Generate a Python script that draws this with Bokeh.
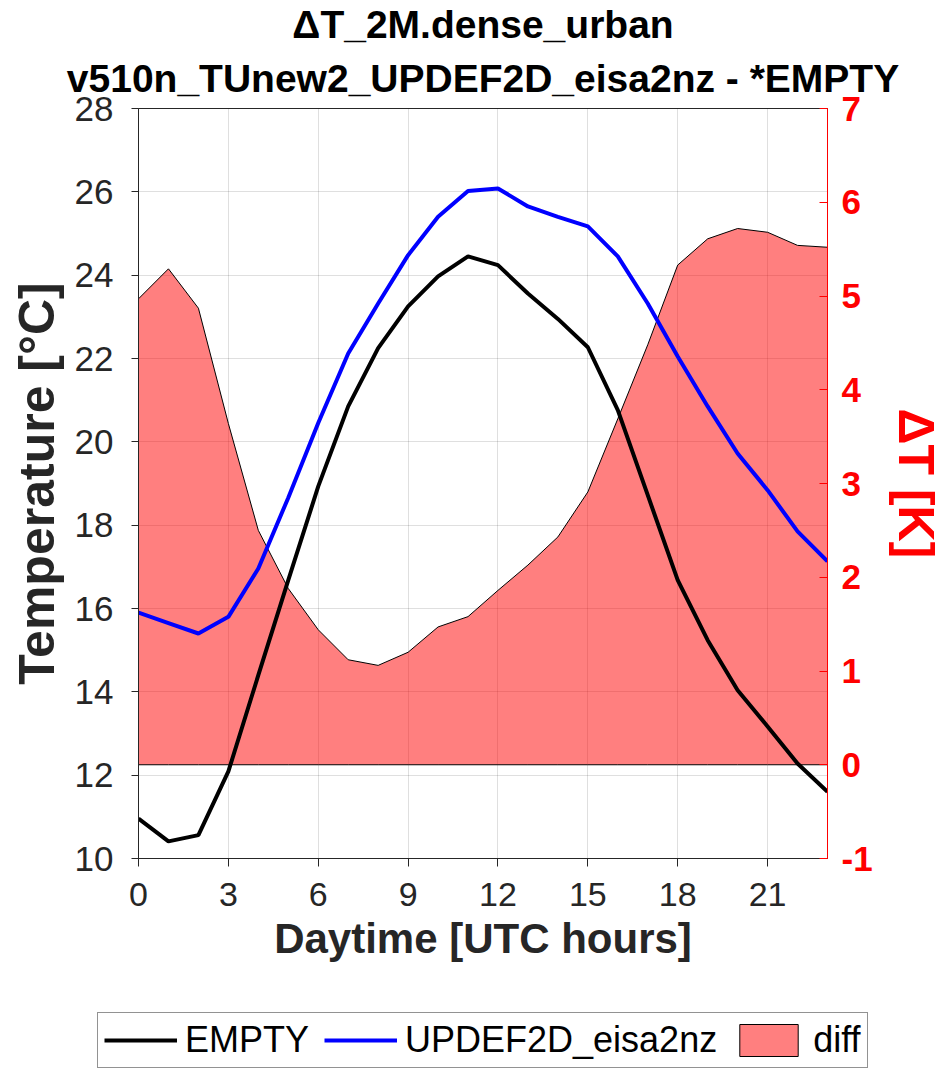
from bokeh.plotting import figure
from bokeh.layouts import column
from bokeh.models import Range1d, LinearAxis, Title, Legend, LegendItem, FixedTicker
from bokeh.embed import file_html
from bokeh.resources import INLINE

# ---- data ----
hours = list(range(24))
t_empty = [10.96, 10.41, 10.56, 12.09, 14.40, 16.68, 18.93, 20.85, 22.25, 23.25,
           23.97, 24.45, 24.24, 23.56, 22.95, 22.27, 20.76, 18.72, 16.68, 15.24,
           14.04, 13.17, 12.28, 11.60]
t_updef = [15.90, 15.65, 15.40, 15.80, 16.96, 18.66, 20.45, 22.12, 23.32, 24.48,
           25.40, 26.02, 26.08, 25.65, 25.40, 25.17, 24.45, 23.32, 22.05, 20.85,
           19.72, 18.84, 17.85, 17.13]
dt_diff = [4.97, 5.29, 4.87, 3.64, 2.50, 1.88, 1.44, 1.12, 1.06, 1.20,
           1.47, 1.58, 1.86, 2.13, 2.43, 2.91, 3.69, 4.48, 5.33, 5.61,
           5.72, 5.68, 5.54, 5.52]
x_ticks = [0, 3, 6, 9, 12, 15, 18, 21]
left_ticks = [10, 12, 14, 16, 18, 20, 22, 24, 26, 28]
right_ticks = [-1, 0, 1, 2, 3, 4, 5, 6, 7]

title_1 = "ΔT_2M.dense_urban"
title_2 = "v510n_TUnew2_UPDEF2D_eisa2nz - *EMPTY"
x_label = "Daytime [UTC hours]"
y_label = "Temperature [°C]"
y2_label = "ΔT [K]"
names = ["EMPTY", "UPDEF2D_eisa2nz", "diff"]

FONT = "Liberation Sans"
DARK = "#262626"
RED = "#ff0000"
BLUE = "#0000ff"
FILL = "red"

p = figure(frame_width=689, frame_height=750, output_backend="svg", toolbar_location=None,
           title=None,
           x_range=Range1d(0, 23), y_range=Range1d(10, 28),
           min_border_left=138, min_border_right=120,
           min_border_top=105, min_border_bottom=150)
p.extra_y_ranges = {"dt": Range1d(-1, 7)}
p.background_fill_color = "white"
p.border_fill_color = "white"
p.outline_line_color = DARK
p.outline_line_width = 1

# filled difference area (right axis)
r_diff = p.patch(x=hours + hours[::-1], y=dt_diff + [0] * len(hours),
                 y_range_name="dt", fill_color=FILL, fill_alpha=0.5,
                 line_color="black", line_width=1)
r_empty = p.line(hours, t_empty, line_color="black", line_width=4)
r_updef = p.line(hours, t_updef, line_color=BLUE, line_width=4)

# grids
for g in (p.xgrid, p.ygrid):
    g.grid_line_color = DARK
    g.grid_line_alpha = 0.15
    g.grid_line_width = 1
p.xgrid.ticker = FixedTicker(ticks=x_ticks)
p.ygrid.ticker = FixedTicker(ticks=left_ticks)

# x axis
xa = p.xaxis[0]
xa.ticker = FixedTicker(ticks=x_ticks)
xa.axis_label = x_label
xa.axis_label_text_font = FONT
xa.axis_label_text_font_size = "42px"
xa.axis_label_text_font_style = "bold"
xa.axis_label_text_color = DARK
xa.axis_label_standoff = 6
xa.major_label_text_font = FONT
xa.major_label_text_font_size = "34px"
xa.major_label_text_color = DARK
xa.major_label_standoff = 16
xa.major_tick_out = 8
xa.major_tick_in = 0
xa.minor_tick_out = 0
xa.minor_tick_in = 0
xa.axis_line_color = DARK
xa.major_tick_line_color = DARK

# left axis
ya = p.yaxis[0]
ya.ticker = FixedTicker(ticks=left_ticks)
ya.axis_label = y_label
ya.axis_label_text_font = FONT
ya.axis_label_text_font_size = "50px"
ya.axis_label_text_font_style = "bold"
ya.axis_label_text_color = DARK
ya.axis_label_standoff = 7
ya.major_label_text_font = FONT
ya.major_label_text_font_size = "35px"
ya.major_label_text_color = DARK
ya.major_label_standoff = 18
ya.major_tick_out = 7
ya.major_tick_in = 0
ya.minor_tick_out = 0
ya.minor_tick_in = 0
ya.axis_line_color = DARK
ya.major_tick_line_color = DARK

# right axis (ΔT)
yr = LinearAxis(y_range_name="dt", ticker=FixedTicker(ticks=right_ticks))
yr.axis_label = y2_label
yr.axis_label_text_font = FONT
yr.axis_label_text_font_size = "50px"
yr.axis_label_text_font_style = "bold"
yr.axis_label_text_color = RED
yr.axis_label_standoff = 12
yr.major_label_text_font = FONT
yr.major_label_text_font_size = "35px"
yr.major_label_text_font_style = "bold"
yr.major_label_text_color = RED
yr.major_label_standoff = 14
yr.major_label_overrides = {-1: "-1"}
yr.major_tick_out = 0
yr.major_tick_in = 8
yr.minor_tick_out = 0
yr.minor_tick_in = 0
yr.axis_line_color = RED
yr.major_tick_line_color = RED
p.add_layout(yr, "right")

# titles (first added sits closest to the plot)
p.add_layout(Title(text=title_2, align="center", text_font=FONT, text_font_size="39px",
                   text_font_style="bold", text_color="black", standoff=18), "above")
p.add_layout(Title(text=title_1, align="center", text_font=FONT, text_font_size="39px",
                   text_font_style="bold", text_color="black", standoff=0), "above")

# ---- legend strip below the chart (its own small figure, not frame-aligned) ----
q = figure(width=947, height=67, output_backend="svg", toolbar_location=None,
           title=None, x_axis_type=None, y_axis_type=None,
           x_range=Range1d(-100, -99), y_range=Range1d(-100, -99), min_border=0)
q.frame_align = False
q.outline_line_color = None
q.background_fill_color = "white"
q.border_fill_color = "white"
# legend keys: same series and styles, lying outside this strip's visible range
k_diff = q.patch(x=hours + hours[::-1], y=dt_diff + [0] * len(hours),
                 fill_color=FILL, fill_alpha=0.5, line_color="black", line_width=1)
k_empty = q.line(hours, t_empty, line_color="black", line_width=4)
k_updef = q.line(hours, t_updef, line_color=BLUE, line_width=4)
legend = Legend(items=[LegendItem(label=names[0], renderers=[k_empty]),
                       LegendItem(label=names[1], renderers=[k_updef]),
                       LegendItem(label=names[2], renderers=[k_diff])],
                orientation="horizontal", location=(97, 7),
                label_text_font=FONT, label_text_font_size="36px",
                label_text_color="black",
                border_line_color=DARK, border_line_width=1,
                glyph_width=73, glyph_height=40, label_standoff=8,
                spacing=15, padding=6, margin=0,
                background_fill_color="white", background_fill_alpha=1)
q.add_layout(legend, "center")

open("out.html", "w").write(file_html(column(p, q, spacing=0), INLINE))
